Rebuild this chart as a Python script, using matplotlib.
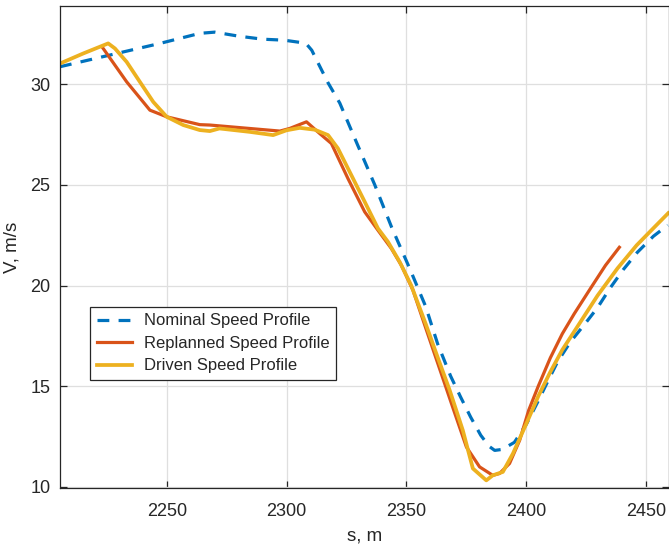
import numpy as np
import matplotlib
matplotlib.use("Agg")
import matplotlib.pyplot as plt

plt.rcParams['font.family'] = ['Liberation Sans', 'DejaVu Sans']

# nominal speed profile (s, V)
s_nominal = [2205.5, 2226.3, 2247.2, 2263.8, 2270, 2280, 2290, 2299, 2308,
             2310.5, 2313, 2317.2, 2322.2, 2329.3, 2336.8, 2343.8, 2351.3,
             2358, 2363, 2368.4, 2372.6, 2376.8, 2381, 2384.5, 2386.8, 2390,
             2395, 2400, 2404.7, 2408.8, 2413, 2418.4, 2424.3, 2429.7, 2435.1,
             2440.5, 2446.3, 2453, 2459]
v_nominal = [30.88, 31.46, 32.04, 32.54, 32.6, 32.4, 32.25, 32.2, 32.05,
             31.7, 31.1, 30.1, 29.07, 27.08, 25.0, 22.9, 20.86,
             18.96, 17.1, 15.5, 14.45, 13.45, 12.55, 12.0, 11.8, 11.85,
             12.2, 13.1, 14.2, 15.2, 16.2, 17.2, 18.07, 18.9, 19.9,
             20.8, 21.65, 22.45, 23.0]

# replanned speed profile
s_replan = [2223.5, 2233.3, 2243, 2250, 2263.8, 2268, 2297.2, 2301.3, 2308.3,
            2313.8, 2318.7, 2325.6, 2332.6, 2338.1, 2343.7, 2347.9, 2352.7,
            2358, 2364, 2370, 2375, 2380.5, 2386, 2388.8, 2393, 2397.2, 2401,
            2405, 2410, 2415, 2420, 2427, 2433, 2438.8]
v_replan = [31.79, 30.13, 28.72, 28.39, 28.0, 27.98, 27.68, 27.81, 28.14,
            27.56, 27.06, 25.32, 23.66, 22.75, 21.84, 21.0, 19.77,
            17.9, 15.8, 13.7, 11.97, 10.98, 10.56, 10.65, 11.15, 12.3, 13.8,
            15.0, 16.4, 17.6, 18.6, 19.9, 21.0, 21.9]

# driven speed profile
s_driven = [2205.5, 2215.2, 2225.6, 2228.4, 2233.3, 2238.8, 2244.4, 2250,
            2256.9, 2263.8, 2268, 2272, 2284.7, 2294.4, 2300, 2305.5, 2311.7,
            2317.3, 2321.4, 2327, 2332.6, 2338.1, 2342.3, 2347.2, 2352,
            2358, 2363.1, 2368, 2373.5, 2377.7, 2383.3, 2386, 2390.2, 2394.4,
            2400, 2405, 2410, 2415, 2421, 2429.7, 2438, 2446, 2453.4, 2459.2]
v_driven = [31.04, 31.54, 32.04, 31.79, 31.12, 30.13, 29.13, 28.39,
            27.98, 27.73, 27.68, 27.81, 27.64, 27.48, 27.72, 27.84, 27.75,
            27.48, 26.82, 25.49, 24.16, 22.84, 22.17, 21.17, 20.0,
            18.1, 16.4, 14.8, 12.8, 10.9, 10.31, 10.56, 10.73, 11.64,
            13.13, 14.5, 15.7, 16.8, 17.9, 19.5, 20.85, 22.0, 22.9, 23.6]

fig = plt.figure(figsize=(6.69, 5.5), dpi=100)
ax = fig.add_axes([60 / 669, 62 / 550, 609 / 669, 482 / 550])

ax.plot(s_nominal, v_nominal, color='#0072BD', lw=2.3, dashes=(3.7, 2.9),
        label='Nominal Speed Profile')
ax.plot(s_replan, v_replan, color='#D95319', lw=2.3,
        label='Replanned Speed Profile')
ax.plot(s_driven, v_driven, color='#EDB120', lw=2.7,
        label='Driven Speed Profile')

ax.set_xlim(2205.5, 2459.5)
ax.set_ylim(9.93, 33.9)
ax.set_xticks([2250, 2300, 2350, 2400, 2450])
ax.set_yticks([10, 15, 20, 25, 30])

ax.grid(True, color='#dfdfdf', lw=0.9)
ax.set_axisbelow(True)
for sp in ax.spines.values():
    sp.set_color('#262626')
    sp.set_linewidth(0.9)
ax.tick_params(direction='in', length=5, width=0.9, color='#262626',
               labelsize=13, labelcolor='#262626', top=True, right=True)
ax.tick_params(axis='x', pad=11)
ax.tick_params(axis='y', pad=7)

ax.set_xlabel('s, m', fontsize=13.5, color='#262626', labelpad=5)
ax.set_ylabel('V, m/s', fontsize=13.5, color='#262626', labelpad=7)

leg = ax.legend(loc='upper left', bbox_to_anchor=(0.049, 0.376), fontsize=12,
                frameon=True, fancybox=False, framealpha=1, edgecolor='#262626',
                handlelength=2.1, handletextpad=0.75, labelspacing=0.45,
                borderpad=0.4, borderaxespad=0)
leg.get_frame().set_linewidth(0.9)
for t in leg.get_texts():
    t.set_color('#262626')

fig.savefig('out.png', dpi=100)
